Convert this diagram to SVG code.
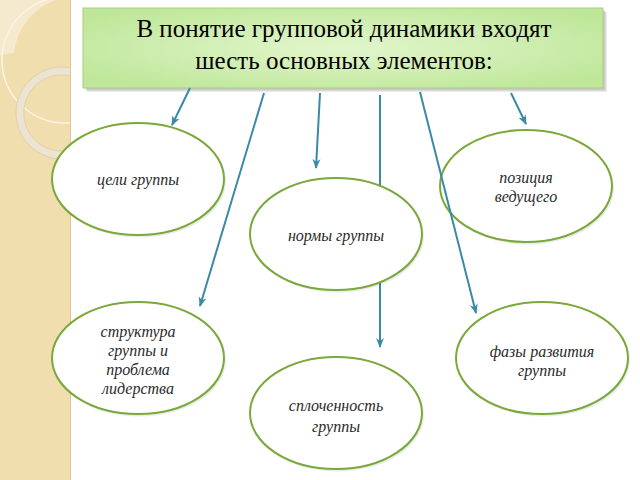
<svg xmlns="http://www.w3.org/2000/svg" width="640" height="480" viewBox="0 0 640 480">
  <defs>
    <radialGradient id="titleFill" cx="50%" cy="50%" r="60%">
      <stop offset="0" stop-color="#e2f6cc"/>
      <stop offset="1" stop-color="#bfe79a"/>
    </radialGradient>
    <marker id="arrow" viewBox="0 0 10 10" refX="9" refY="5" markerWidth="5" markerHeight="5" orient="auto" markerUnits="strokeWidth">
      <path d="M0,1 L10,5 L0,9 L3,5 Z" fill="#3a8aa6" stroke="none"/>
    </marker>
    <g id="oval">
      <ellipse cx="1.5" cy="2" rx="86.5" ry="56.5" fill="#000000" opacity="0.08"/>
      <ellipse cx="0" cy="0" rx="86" ry="56" fill="#ffffff" stroke="#7aa83a" stroke-width="2"/>
    </g>
  </defs>

  <rect width="640" height="480" fill="#ffffff"/>

  <g id="strip">
    <rect x="0" y="0" width="70" height="480" fill="#f0deae"/>
    <path d="M0,0 L56,0 A63,63 0 0 0 14,53 L0,55 Z" fill="#f6ecd4" opacity="0.85"/>
    <path d="M70,-2.8 A63,63 0 1 0 70,122.8" fill="none" stroke="#fbf5e4" stroke-width="1.6"/>
    <path d="M70,71.8 A42,42 0 1 0 70,154.2" fill="none" stroke="#ece4d0" stroke-width="8"/>
    <path d="M70,67.7 A46,46 0 1 0 70,158.3" fill="none" stroke="#d8c9a4" stroke-width="0.7"/>
    <path d="M70,75.9 A38,38 0 1 0 70,150.1" fill="none" stroke="#d8c9a4" stroke-width="0.7"/>
    <line x1="70.5" y1="0" x2="70.5" y2="480" stroke="#d9c79a" stroke-width="1"/>
  </g>

  <g id="title">
    <rect x="87" y="12" width="520" height="80" fill="#000000" opacity="0.08"/>
    <rect x="85.5" y="10.5" width="520" height="80" fill="#000000" opacity="0.14"/>
    <rect x="83" y="8" width="520" height="80" fill="url(#titleFill)" stroke="#a9d07e" stroke-width="1"/>
    <text x="344" y="37" font-family="Liberation Serif" font-size="25" text-anchor="middle">В понятие групповой динамики входят</text>
    <text x="344" y="69" font-family="Liberation Serif" font-size="25" text-anchor="middle">шесть основных элементов:</text>
  </g>

  <g id="node-position">
    <use href="#oval" x="526" y="186"/>
    <text x="526" y="183" font-family="Liberation Serif" font-style="italic" font-size="16" fill="#2a2a2a" text-anchor="middle">позиция</text>
    <text x="526" y="202" font-family="Liberation Serif" font-style="italic" font-size="16" fill="#2a2a2a" text-anchor="middle">ведущего</text>
  </g>

  <g id="connectors" stroke="#3a8aa6" stroke-width="2" marker-end="url(#arrow)">
    <line x1="190" y1="88" x2="172" y2="125"/>
    <line x1="264" y1="93" x2="200" y2="306"/>
    <line x1="320" y1="93" x2="316" y2="168"/>
    <line x1="380" y1="95" x2="380" y2="347"/>
    <line x1="420" y1="92" x2="476" y2="313"/>
    <line x1="511" y1="93" x2="526" y2="124"/>
  </g>

  <g id="node-goals">
    <use href="#oval" x="138" y="179"/>
    <text x="138" y="185" font-family="Liberation Serif" font-style="italic" font-size="16" fill="#2a2a2a" text-anchor="middle">цели группы</text>
  </g>

  <g id="node-norms">
    <use href="#oval" x="336" y="234"/>
    <text x="336" y="241" font-family="Liberation Serif" font-style="italic" font-size="16" fill="#2a2a2a" text-anchor="middle">нормы группы</text>
  </g>

  <g id="node-structure">
    <use href="#oval" x="138" y="358"/>
    <text x="138" y="337" font-family="Liberation Serif" font-style="italic" font-size="16" fill="#2a2a2a" text-anchor="middle">структура</text>
    <text x="138" y="356" font-family="Liberation Serif" font-style="italic" font-size="16" fill="#2a2a2a" text-anchor="middle">группы и</text>
    <text x="138" y="375" font-family="Liberation Serif" font-style="italic" font-size="16" fill="#2a2a2a" text-anchor="middle">проблема</text>
    <text x="138" y="394" font-family="Liberation Serif" font-style="italic" font-size="16" fill="#2a2a2a" text-anchor="middle">лидерства</text>
  </g>

  <g id="node-cohesion">
    <use href="#oval" x="336" y="413"/>
    <text x="336" y="411" font-family="Liberation Serif" font-style="italic" font-size="16" fill="#2a2a2a" text-anchor="middle">сплоченность</text>
    <text x="336" y="432" font-family="Liberation Serif" font-style="italic" font-size="16" fill="#2a2a2a" text-anchor="middle">группы</text>
  </g>

  <g id="node-phases">
    <use href="#oval" x="542" y="358"/>
    <text x="542" y="357" font-family="Liberation Serif" font-style="italic" font-size="16" fill="#2a2a2a" text-anchor="middle">фазы развития</text>
    <text x="542" y="376" font-family="Liberation Serif" font-style="italic" font-size="16" fill="#2a2a2a" text-anchor="middle">группы</text>
  </g>
</svg>
